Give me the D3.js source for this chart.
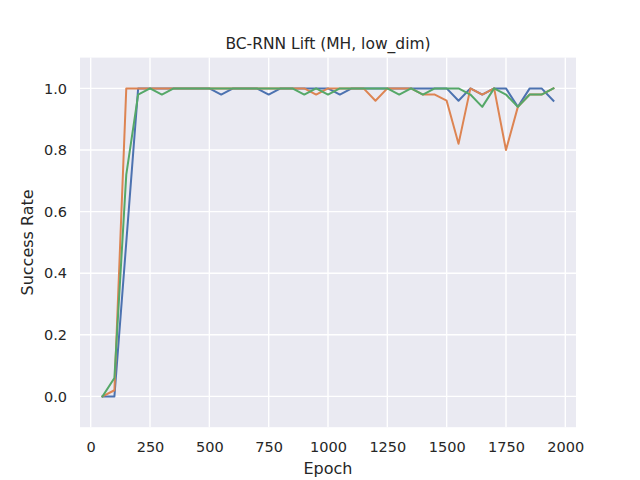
<!DOCTYPE html>
<html>
<head>
<meta charset="utf-8">
<script src="https://cdn.jsdelivr.net/npm/d3@7"></script>
<style>
	body { margin: 0; background: #fff; }
	text { font-family: "DejaVu Sans", sans-serif; fill: #262626; }
</style>
</head>
<body>
<div id="chart"></div>
<script>
const epochs = d3.range(50, 2000, 50);

const blue = [0, 0, 0.5, 1, 1, 1, 1, 1, 1, 1, 0.98, 1, 1, 1, 0.98, 1, 1, 1, 1, 1,
	0.98, 1, 1, 1, 1, 1, 1, 1, 1, 1, 0.96, 1, 0.98, 1, 1, 0.94, 1, 1, 0.96];
const orange = [0, 0.02, 1, 1, 1, 1, 1, 1, 1, 1, 1, 1, 1, 1, 1, 1, 1, 1, 0.98, 1,
	1, 1, 1, 0.96, 1, 1, 1, 0.98, 0.98, 0.96, 0.82, 1, 0.98, 1, 0.8, 0.94, 0.98, 0.98, 1];
const green = [0, 0.06, 0.72, 0.98, 1, 0.98, 1, 1, 1, 1, 1, 1, 1, 1, 1, 1, 1, 0.98, 1, 0.98,
	1, 1, 1, 1, 1, 0.98, 1, 0.98, 1, 1, 1, 0.98, 0.94, 1, 0.98, 0.94, 0.98, 0.98, 1];

const seriesList = [blue, orange, green];
const colors = ["#4c72b0", "#dd8452", "#55a868"];
const xTicks = [0, 250, 500, 750, 1000, 1250, 1500, 1750, 2000];
const yTicks = [0, 0.2, 0.4, 0.6, 0.8, 1.0];

let
	width = 640,
	height = 480,
	margin = {left: 80, right: 64, top: 57.6, bottom: 52.8},
	x = d3.scaleLinear().domain([-45, 2045]).range([margin.left, width - margin.right]),
	y = d3.scaleLinear().domain([-0.1, 1.1]).range([height - margin.bottom, margin.top]),
	svg = d3.select("#chart")
		.append("svg")
		.attr("width", width)
		.attr("height", height)

svg.append("rect")
	.attr("x", margin.left)
	.attr("y", margin.top)
	.attr("width", width - margin.left - margin.right)
	.attr("height", height - margin.top - margin.bottom)
	.attr("fill", "#eaeaf2")

// grid
svg.append("g")
	.selectAll("line")
	.data(xTicks)
	.join("line")
	.attr("x1", d => x(d)).attr("x2", d => x(d))
	.attr("y1", margin.top).attr("y2", height - margin.bottom)
	.attr("stroke", "#fff").attr("stroke-width", 1.4)

svg.append("g")
	.selectAll("line")
	.data(yTicks)
	.join("line")
	.attr("y1", d => y(d)).attr("y2", d => y(d))
	.attr("x1", margin.left).attr("x2", width - margin.right)
	.attr("stroke", "#fff").attr("stroke-width", 1.4)

// axes
let xAxis = svg.append("g")
	.attr("transform", `translate(0,${height - margin.bottom})`)
	.call(d3.axisBottom(x).tickValues(xTicks).tickSize(0).tickPadding(15).tickFormat(d3.format("d")))
let yAxis = svg.append("g")
	.attr("transform", `translate(${margin.left},0)`)
	.call(d3.axisLeft(y).tickValues(yTicks).tickSize(0).tickPadding(13).tickFormat(d3.format(".1f")))

for (let a of [xAxis, yAxis]) {
	a.select(".domain").remove()
	a.selectAll("text")
		.attr("font-size", 14.5)
		.attr("font-family", "DejaVu Sans")
		.attr("fill", "#262626")
}

// lines
let line = d3.line()
	.x((d, i) => x(epochs[i]))
	.y(d => y(d))

svg.append("g")
	.attr("fill", "none")
	.attr("stroke-width", 2)
	.attr("stroke-linejoin", "round")
	.attr("stroke-linecap", "square")
	.selectAll("path")
	.data(seriesList)
	.join("path")
	.attr("stroke", (d, i) => colors[i])
	.attr("d", line)

// labels
svg.append("text")
	.attr("x", (margin.left + width - margin.right) / 2)
	.attr("y", 49)
	.attr("text-anchor", "middle")
	.attr("font-size", 15.5)
	.text("BC-RNN Lift (MH, low_dim)")

svg.append("text")
	.attr("x", (margin.left + width - margin.right) / 2)
	.attr("y", 474)
	.attr("text-anchor", "middle")
	.attr("font-size", 16)
	.text("Epoch")

svg.append("text")
	.attr("transform", `translate(33,${(margin.top + height - margin.bottom) / 2}) rotate(-90)`)
	.attr("text-anchor", "middle")
	.attr("font-size", 16)
	.text("Success Rate")
</script>
</body>
</html>
